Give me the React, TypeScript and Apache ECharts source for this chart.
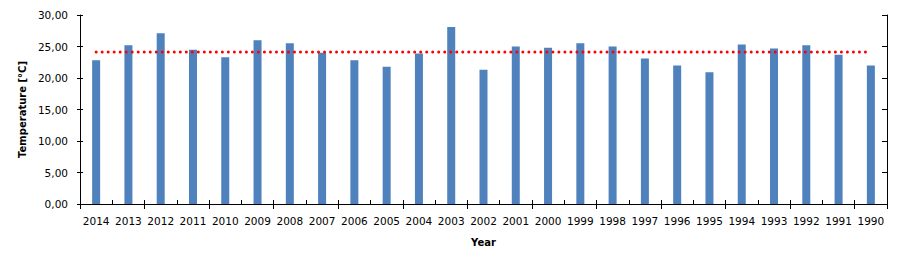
import React, { useEffect, useRef } from "react";
import * as echarts from "echarts";

const years = ["2014","2013","2012","2011","2010","2009","2008","2007","2006","2005","2004","2003","2002","2001","2000","1999","1998","1997","1996","1995","1994","1993","1992","1991","1990"];
const temperatures = [22.8,25.2,27.1,24.5,23.3,26.0,25.5,24.0,22.8,21.8,23.9,28.1,21.3,25.0,24.8,25.5,25.0,23.1,22.0,20.9,25.3,24.7,25.2,23.7,22.0];
const meanValues = [24.14,24.14,24.14,24.14,24.14,24.14,24.14,24.14,24.14,24.14,24.14,24.14,24.14,24.14,24.14,24.14,24.14,24.14,24.14,24.14,24.14,24.14,24.14,24.14,24.14];
const yMin = 0;
const yMax = 30;
const yStep = 5;

const FONT = "DejaVu Sans";

export default function App() {
  const ref = useRef<HTMLDivElement>(null);
  useEffect(() => {
    document.body.style.margin = "0";
    const chart = echarts.init(ref.current!, null, { renderer: "svg" });
    const axisLine = { show: true, lineStyle: { color: "#000", width: 1 } };
    chart.setOption({
      animation: false,
      backgroundColor: "#fff",
      grid: { left: 80, top: 15, right: 11, bottom: 51, containLabel: false },
      xAxis: [
        {
          type: "category",
          data: years,
          position: "bottom",
          name: "Year",
          nameLocation: "middle",
          nameGap: 33,
          nameTextStyle: { fontFamily: FONT, fontSize: 10, fontWeight: "bold", color: "#000" },
          axisLine,
          axisTick: { show: true, inside: true, length: 4, lineStyle: { color: "#000" } },
          axisLabel: { fontFamily: FONT, fontSize: 10.5, color: "#000", margin: 11, interval: 0 },
        },
        {
          type: "category",
          data: years,
          position: "top",
          axisLine,
          axisTick: { show: true, inside: true, length: 5, lineStyle: { color: "#000" } },
          axisLabel: { show: false },
        },
      ],
      yAxis: [
        {
          type: "value",
          min: yMin,
          max: yMax,
          interval: yStep,
          position: "left",
          name: "Temperature [°C]",
          nameLocation: "middle",
          nameGap: 41,
          nameTextStyle: { fontFamily: FONT, fontSize: 10, fontWeight: "bold", color: "#000" },
          axisLine,
          axisTick: { show: true, length: 3, lineStyle: { color: "#000" } },
          axisLabel: {
            fontFamily: FONT,
            fontSize: 10.5,
            color: "#000",
            margin: 12,
            formatter: (v: number) => v.toFixed(2).replace(".", ","),
          },
          splitLine: { show: false },
        },
        {
          type: "value",
          min: yMin,
          max: yMax,
          interval: yStep,
          position: "right",
          axisLine,
          axisTick: { show: true, inside: true, length: 5, lineStyle: { color: "#000" } },
          axisLabel: { show: false },
          splitLine: { show: false },
        },
        {
          type: "value",
          min: yMin,
          max: yMax,
          interval: yStep,
          position: "left",
          axisLine: { show: false },
          axisTick: { show: true, inside: true, length: 3, lineStyle: { color: "#000" } },
          axisLabel: { show: false },
          splitLine: { show: false },
        },
      ],
      series: [
        {
          type: "bar",
          data: temperatures,
          barWidth: 8,
          itemStyle: { color: "#4F81BD" },
          xAxisIndex: 0,
          yAxisIndex: 0,
        },
        {
          type: "line",
          data: meanValues,
          symbol: "none",
          xAxisIndex: 0,
          yAxisIndex: 0,
          z: 5,
          lineStyle: { color: "#FF0000", width: 3, type: [0.01, 6], cap: "round" },
        },
      ],
    });
    return () => chart.dispose();
  }, []);
  return <div ref={ref} style={{ width: 898, height: 255 }} />;
}
